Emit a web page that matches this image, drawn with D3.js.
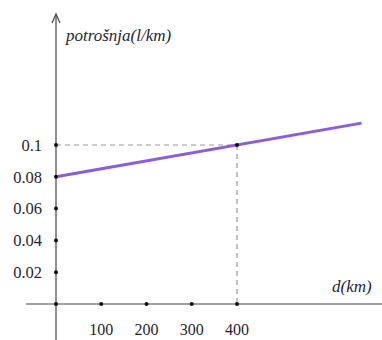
<!DOCTYPE html>
<html><head><meta charset="utf-8">
<script src="https://cdn.jsdelivr.net/npm/d3@7"></script>
<style>body{margin:0;background:#fff}svg{display:block}</style>
</head><body>
<script>
const xTicks = [100, 200, 300, 400];
const yTicks = [0.02, 0.04, 0.06, 0.08, 0.1];
const yTickLabels = ["0.02", "0.04", "0.06", "0.08", "0.1"];
const lineX = [0, 675];
const lineY = [0.08, 0.11375];
const markX = [400];
const markY = [0.1];
const xLabel = "d(km)";
const yLabel = "potrošnja(l/km)";

const W = 382, H = 340;
const svg = d3.select("body").append("svg").attr("width", W).attr("height", H);
const x = d3.scaleLinear().domain([0, 400]).range([56, 237]);
const y = d3.scaleLinear().domain([0, 0.1]).range([304, 145]);
const axisCol = "#444";

svg.append("line").attr("x1", 26).attr("x2", W).attr("y1", y(0)).attr("y2", y(0))
  .attr("stroke", axisCol).attr("stroke-width", 1.2);
svg.append("line").attr("x1", x(0)).attr("x2", x(0)).attr("y1", 15).attr("y2", H)
  .attr("stroke", axisCol).attr("stroke-width", 1.2);
svg.append("path").attr("d", `M${x(0)-4},${23} L${x(0)},${14} L${x(0)+4},${23}`)
  .attr("fill", "none").attr("stroke", axisCol).attr("stroke-width", 1.2);

svg.append("line").attr("x1", x(0)).attr("x2", x(markX[0])).attr("y1", y(markY[0])).attr("y2", y(markY[0]))
  .attr("stroke", "#999").attr("stroke-width", 1.2).attr("stroke-dasharray", "5,4");
svg.append("line").attr("x1", x(markX[0])).attr("x2", x(markX[0])).attr("y1", y(markY[0])).attr("y2", y(0))
  .attr("stroke", "#999").attr("stroke-width", 1.2).attr("stroke-dasharray", "5,4");

svg.append("path").datum(lineX.map((d, i) => [d, lineY[i]]))
  .attr("d", d3.line().x(d => x(d[0])).y(d => y(d[1])))
  .attr("stroke", "#8a5ce0").attr("stroke-width", 3).attr("fill", "none");

const dots = [[0, 0]].concat(xTicks.map(v => [v, 0]), yTicks.map(v => [0, v]), [[markX[0], markY[0]]]);
svg.selectAll("circle.dot").data(dots).enter().append("circle")
  .attr("cx", d => x(d[0])).attr("cy", d => y(d[1])).attr("r", 2).attr("fill", "#111");

const tickFont = "'Liberation Serif', 'Times New Roman', serif";
const txtCol = "#1f1f33";
svg.selectAll("text.yt").data(yTicks).enter().append("text")
  .attr("x", 42).attr("y", d => y(d)).attr("dy", "0.35em").attr("text-anchor", "end")
  .attr("font-family", tickFont).attr("font-size", 16.5).attr("fill", txtCol)
  .text((d, i) => yTickLabels[i]);
svg.selectAll("text.xt").data(xTicks).enter().append("text")
  .attr("x", d => x(d)).attr("y", 335).attr("text-anchor", "middle")
  .attr("font-family", tickFont).attr("font-size", 16).attr("fill", txtCol)
  .text(d => d);

svg.append("text").attr("x", 66).attr("y", 41).attr("font-family", tickFont)
  .attr("font-style", "italic").attr("font-size", 17).attr("fill", txtCol).text(yLabel);
svg.append("text").attr("x", 332).attr("y", 292).attr("font-family", tickFont)
  .attr("font-style", "italic").attr("font-size", 17).attr("fill", txtCol).text(xLabel);
</script>
</body></html>
